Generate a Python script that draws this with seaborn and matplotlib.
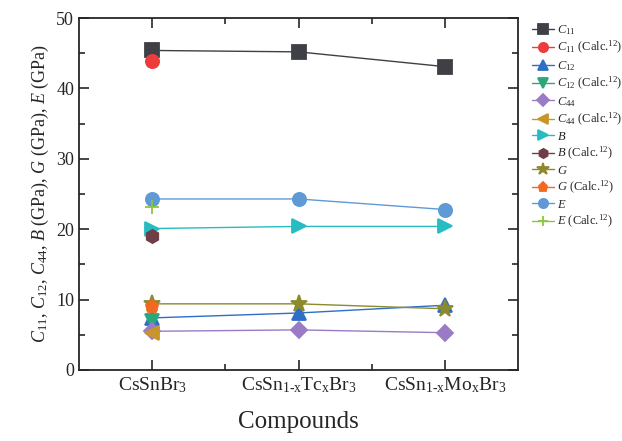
import matplotlib
matplotlib.use("Agg")
import matplotlib.pyplot as plt
import seaborn as sns

sns.set_style("ticks")
plt.rcParams['font.family'] = ['Liberation Serif', 'DejaVu Serif']
plt.rcParams['mathtext.fontset'] = 'custom'
plt.rcParams['mathtext.rm'] = 'Liberation Serif'
plt.rcParams['mathtext.it'] = 'Liberation Serif:italic'

compounds = ['CsSnBr$_3$', 'CsSn$_{\\text{1-x}}$Tc$_\\mathrm{x}$Br$_3$',
             'CsSn$_{\\text{1-x}}$Mo$_\\mathrm{x}$Br$_3$']
xpos = [1, 2, 3]

c11 = [45.4, 45.2, 43.1]
c12 = [7.4, 8.1, 9.2]
c44 = [5.5, 5.7, 5.3]
bulk = [20.1, 20.4, 20.4]
shear = [9.4, 9.4, 8.7]
young = [24.3, 24.3, 22.8]

c11_calc = 43.9
c12_calc = 7.0
c44_calc = 5.2
bulk_calc = 19.0
shear_calc = 9.0
young_calc = 23.2

fig, ax = plt.subplots(figsize=(6.22, 4.41), dpi=100)
fig.subplots_adjust(left=0.127, right=0.833, bottom=0.161, top=0.959)

ms = 9.5
series = [
    (c11, '$C_{11}$', '#3f3f46', 's'),
    ([c11_calc], '$C_{11}$ (Calc.$^{12}$)', '#ee3b3b', 'o'),
    (c12, '$C_{12}$', '#2f6ec6', '^'),
    ([c12_calc], '$C_{12}$ (Calc.$^{12}$)', '#2aa87c', 'v'),
    (c44, '$C_{44}$', '#9a7cc6', 'D'),
    ([c44_calc], '$C_{44}$ (Calc.$^{12}$)', '#c9952b', '<'),
    (bulk, '$B$', '#27bcc2', '>'),
    ([bulk_calc], '$B$ (Calc.$^{12}$)', '#6f3e47', 'h'),
    (shear, '$G$', '#8c8a2c', '*'),
    ([shear_calc], '$G$ (Calc.$^{12}$)', '#f26a22', 'p'),
    (young, '$E$', '#5f9ad6', 'o'),
    ([young_calc], '$E$ (Calc.$^{12}$)', '#8cc63f', '+'),
]

for vals, label, color, marker in series:
    size = ms + 3 if marker == '*' else ms
    if marker == 'D':
        size = ms - 1
    sns.lineplot(x=xpos[:len(vals)], y=vals, ax=ax, color=color, marker=marker,
                 markersize=size, markeredgecolor=color, markeredgewidth=1.3,
                 linewidth=1.0, label=label, legend=True)

ax.set_xlim(0.5, 3.5)
ax.set_ylim(0, 50)
ax.set_xticks(xpos)
ax.set_xticklabels(compounds, fontsize=14)
ax.set_xticks([1.5, 2.5], minor=True)
ax.set_yticks([0, 10, 20, 30, 40, 50])
ax.set_yticks([5, 15, 25, 35, 45], minor=True)
ax.tick_params(axis='y', labelsize=13)
ax.tick_params(which='both', direction='in', top=True, right=True, width=1.2)
ax.tick_params(which='major', length=7)
ax.tick_params(which='minor', length=4)
for sp in ax.spines.values():
    sp.set_linewidth(1.3)

ax.set_xlabel('Compounds', fontsize=18, labelpad=12)
ax.set_ylabel('$C_{11}$, $C_{12}$, $C_{44}$, $B$ (GPa), $G$ (GPa), $E$ (GPa)', fontsize=13)

ax.legend(loc='upper left', bbox_to_anchor=(1.02, 1.0), frameon=False, fontsize=9,
          markerscale=0.7, handlelength=1.8, handletextpad=0.2, labelspacing=0.2,
          borderaxespad=0)

fig.savefig('out.png', dpi=100)
